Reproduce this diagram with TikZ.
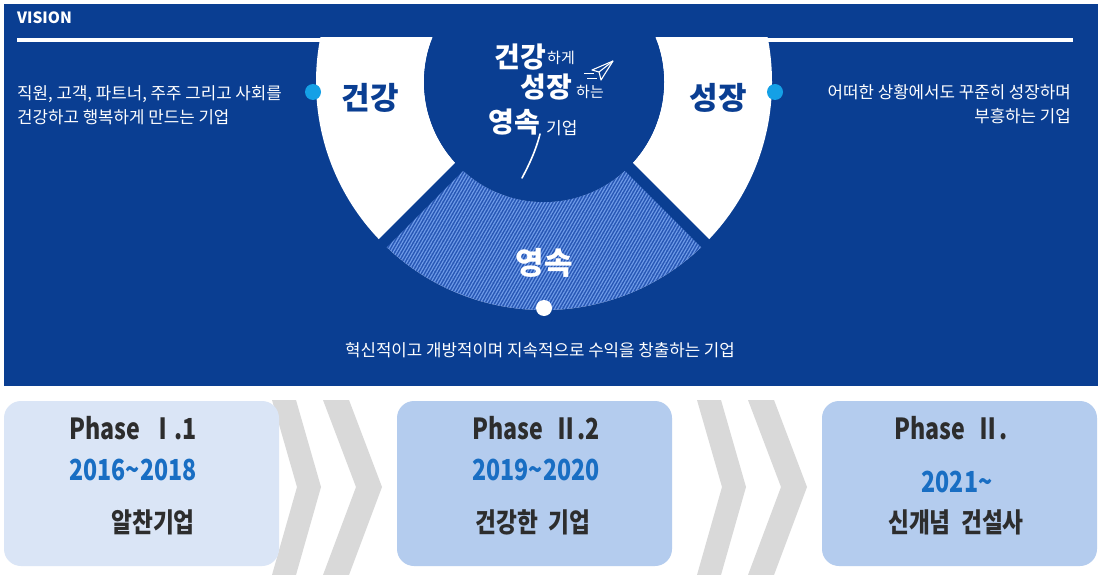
\documentclass[tikz,border=0pt]{standalone}
\usepackage{fontspec}
\usepackage{graphicx}
\setmainfont{Noto Sans CJK KR}
\newfontfamily\kr{Noto Sans CJK KR}
\usetikzlibrary{patterns.meta,calc}
\definecolor{bg}{RGB}{10,62,146}
\definecolor{hatchbg}{RGB}{38,86,180}
\definecolor{hatchln}{RGB}{110,155,232}
\definecolor{dotc}{RGB}{20,160,230}
\definecolor{boxa}{RGB}{218,229,246}
\definecolor{boxb}{RGB}{180,204,238}
\definecolor{chev}{RGB}{217,217,217}
\definecolor{txtd}{RGB}{45,45,45}
\definecolor{yr}{RGB}{25,110,195}
\tikzset{
  desc/.style={text=white, inner sep=0pt, font=\kr\fontsize{16.8}{24}\selectfont},
  seglabel/.style={inner sep=0pt, font=\kr\bfseries\fontsize{31}{31}\selectfont},
  calli/.style={text=white, inner sep=0pt, font=\kr\bfseries\fontsize{28}{28}\selectfont},
  callismall/.style={text=white, inner sep=0pt, font=\kr\fontsize{15}{15}\selectfont},
  phasebox/.style={rounded corners=17pt, minimum width=275pt, minimum height=165pt, inner sep=0pt},
  phasetxt/.style={text=txtd, inner sep=0pt, font=\kr\bfseries\fontsize{29}{29}\selectfont},
  yeartxt/.style={text=yr, inner sep=0pt, font=\kr\bfseries\fontsize{29}{29}\selectfont},
  nametxt/.style={text=txtd, inner sep=0pt, font=\kr\bfseries\fontsize{27}{27}\selectfont},
  chevron/.style={fill=chev},
  dotnode/.style={circle, inner sep=0pt, minimum size=16pt},
}
\newcommand{\cnd}[1]{\scalebox{0.8}[1]{#1}}
\newcommand{\cndk}[1]{\scalebox{0.84}[1]{#1}}
\begin{document}
\begin{tikzpicture}[x=1pt,y=-1pt]
\useasboundingbox (0,0) rectangle (1100,575);
\fill[white] (0,0) rectangle (1100,575);
% blue panel
\fill[bg] (4,4) rectangle (1098,386);
\node[text=white, inner sep=0pt, anchor=west, font=\kr\bfseries\fontsize{15.5}{15.5}\selectfont] (vision) at (17,18) {VISION};
\draw[white, line width=3.5pt] (17,40) -- (1073,40);
\coordinate (C) at (544,82);
% ring
\begin{scope}
\clip (0,38) rectangle (1100,390);
\fill[white, even odd rule] (C) circle[radius=228] (C) circle[radius=120];
\path[fill=hatchbg] ($(C)+(45:120)$) -- ($(C)+(45:228)$) arc[start angle=45, end angle=135, radius=228] -- ($(C)+(135:120)$) arc[start angle=135, end angle=45, radius=120] -- cycle;
\path[pattern={Lines[angle=60, distance=2.8pt, line width=1.2pt]}, pattern color=hatchln] ($(C)+(45:120)$) -- ($(C)+(45:228)$) arc[start angle=45, end angle=135, radius=228] -- ($(C)+(135:120)$) arc[start angle=135, end angle=45, radius=120] -- cycle;
\draw[bg, line width=11pt] (C) -- ++(45:245);
\draw[bg, line width=11pt] (C) -- ++(135:245);
\fill[bg] (C) circle[radius=120];
\end{scope}
% dots
\node[dotnode, fill=dotc] (dl) at (313,92) {};
\node[dotnode, fill=dotc] (dr) at (775,92) {};
\node[dotnode, fill=white] (db) at (544,308) {};
% segment labels
\node[seglabel, text=bg] (geon) at (370,98) {건강};
\node[seglabel, text=bg] (seong) at (718,98) {성장};
\node[seglabel, text=white] (yeong) at (544,263) {영속};
% central slogan
\node[calli] (c1) at (520,57) {건강};
\node[callismall, anchor=west] (c1s) at (547,58) {하게};
\node[calli] (c2) at (546,87) {성장};
\node[callismall, anchor=west] (c2s) at (576,92) {하는};
\node[calli] (c3) at (514,122) {영속};
\node[callismall, anchor=west, font=\kr\fontsize{17}{17}\selectfont] (c3s) at (546,128) {기업};
\draw[white, line width=1.6pt, line cap=round] (540,134) .. controls (536,150) and (529,165) .. (522,178);
\draw[white, line width=1.1pt, line join=round] (592,70) -- (613,61) -- (601,80) -- (599,72) -- cycle;
\draw[white, line width=1.1pt] (599,72) -- (613,61);
\draw[white, line width=1pt] (584,74) -- (594,74);
\draw[white, line width=1pt] (587,79) -- (597,79);
% descriptions
\node[desc, anchor=west, align=left] (ldesc) at (17,105) {직원, 고객, 파트너, 주주 그리고 사회를\\건강하고 행복하게 만드는 기업};
\node[desc, anchor=east, align=right] (rdesc) at (1071,104) {어떠한 상황에서도 꾸준히 성장하며\\부흥하는 기업};
\node[desc] (bdesc) at (540,350) {혁신적이고 개방적이며 지속적으로 수익을 창출하는 기업};
% chevrons
\foreach \dx in {0,425}{
  \fill[chevron] (272+\dx,400) -- (296+\dx,400) -- (321+\dx,487) -- (296+\dx,575) -- (272+\dx,575) -- (297+\dx,487) -- cycle;
  \fill[chevron] (323+\dx,400) -- (349+\dx,400) -- (382+\dx,487) -- (349+\dx,575) -- (323+\dx,575) -- (356+\dx,487) -- cycle;
}
% phase boxes
\node[phasebox, fill=boxa] (box1) at (141.5,483.5) {};
\node[phasebox, fill=boxb] (box2) at (534.5,483.5) {};
\node[phasebox, fill=boxb] (box3) at (959.5,483.5) {};
\node[phasetxt] (p1) at (133,428) {\cnd{Phase~~Ⅰ.1}};
\node[yeartxt] (y1) at (133,470) {\cnd{2016\textasciitilde 2018}};
\node[nametxt] (n1) at (153,522) {\cndk{알찬기업}};
\node[phasetxt] (p2) at (536,428) {\cnd{Phase~~Ⅱ.2}};
\node[yeartxt] (y2) at (536,470) {\cnd{2019\textasciitilde 2020}};
\node[nametxt] (n2) at (533,522) {\cndk{건강한~~기업}};
\node[phasetxt] (p3) at (951,428) {\cnd{Phase~~Ⅱ.}};
\node[yeartxt] (y3) at (957,482) {\cnd{2021\textasciitilde}};
\node[nametxt] (n3) at (956,522) {\cndk{신개념~~건설사}};
\end{tikzpicture}
\end{document}
